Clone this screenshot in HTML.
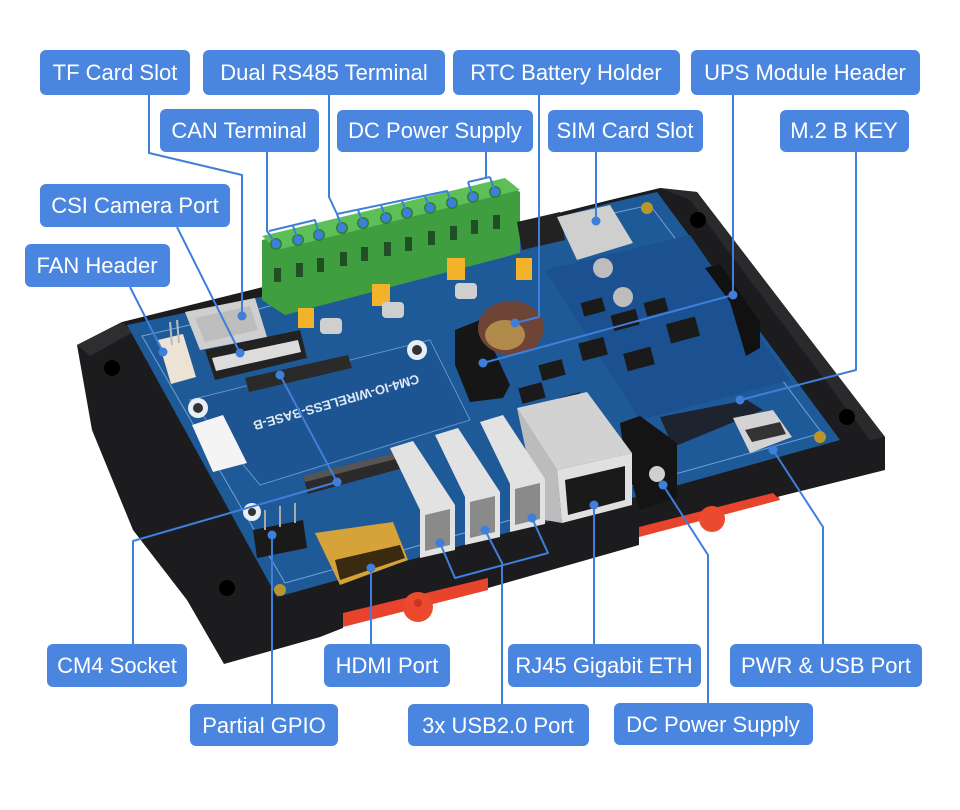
<!DOCTYPE html>
<html><head><meta charset="utf-8"><style>
html,body{margin:0;padding:0;background:#fff;}
svg{display:block;}
.lb{fill:#4a86df;}
.tx{font-family:"Liberation Sans",sans-serif;font-size:22px;fill:#fff;text-anchor:middle;}
.ln{fill:none;stroke:#3f7fdc;stroke-width:2;stroke-linejoin:round;}
.dt{fill:#3f7fdc;}
</style></head><body>
<svg width="960" height="810" viewBox="0 0 960 810" xmlns="http://www.w3.org/2000/svg">
<rect width="960" height="810" fill="#fff"/>
<!-- red din clips (strips behind case) -->
<polygon points="343,608 488,572 488,590 343,627" fill="#e8432c"/>
<polygon points="639,522 775,488 780,500 639,537" fill="#e8432c"/>
<!-- case -->
<polygon points="77,345 122,322 263,287 610,200 660,188 697,192 885,437 885,470 777,497 773,493 639,527 639,545 488,588 488,578 343,613 343,628 320,637 224,664 187,600 133,530 92,430" fill="#1c1c1e"/>
<polygon points="77,345 122,322 133,332 90,356" fill="#2e2e30"/>
<polygon points="660,188 697,192 885,437 870,440 690,200" fill="#2a2a2c"/>
<circle cx="112" cy="368" r="8" fill="#000"/>
<circle cx="227" cy="588" r="8" fill="#000"/>
<circle cx="698" cy="220" r="8" fill="#000"/>
<circle cx="847" cy="417" r="8" fill="#000"/>
<!-- red tabs (in front) -->
<circle cx="418" cy="607" r="15" fill="#ec4a2e"/>
<circle cx="418" cy="603" r="4" fill="#c83520"/>
<circle cx="712" cy="519" r="13" fill="#ec4a2e"/>
<!-- PCB -->
<polygon points="127,325 260,297 610,203 657,192 840,440 277,597" fill="#1f5a98"/>
<polygon points="142,336 255,310 605,215 650,205 822,433 285,583" fill="none" stroke="#6fa2d8" stroke-width="1"/>
<polygon points="190,400 430,340 470,420 260,485" fill="#1d5592" stroke="#5f93cc" stroke-width="1"/>
<polygon points="545,270 690,235 790,380 640,420" fill="#1b5190"/>
<text x="335" y="398" transform="rotate(164 335 398)" font-family="Liberation Sans, sans-serif" font-size="13" font-weight="bold" fill="#dfe9f5" text-anchor="middle">CM4-IO-WIRELESS-BASE-B</text>
<!-- mounting holes -->
<circle cx="198" cy="408" r="10" fill="#e8eef5"/><circle cx="198" cy="408" r="5" fill="#333"/>
<circle cx="417" cy="350" r="10" fill="#e8eef5"/><circle cx="417" cy="350" r="5" fill="#333"/>
<circle cx="252" cy="512" r="9" fill="#e8eef5"/><circle cx="252" cy="512" r="4" fill="#333"/>
<circle cx="647" cy="208" r="6" fill="#b8962e"/>
<circle cx="820" cy="437" r="6" fill="#b8962e"/>
<circle cx="280" cy="590" r="6" fill="#b8962e"/>
<!-- white sticker -->
<polygon points="192,425 223,415 247,463 213,472" fill="#f4f4f4"/>
<!-- TF slot -->
<polygon points="185,312 255,298 267,337 200,350" fill="#cfcfcf"/>
<polygon points="195,318 250,306 258,330 205,342" fill="#bdbdbd"/>
<!-- CSI connector -->
<polygon points="205,350 300,330 307,358 215,380" fill="#222"/>
<polygon points="212,358 298,340 301,352 216,371" fill="#dcdcdc"/>
<!-- FAN header -->
<polygon points="158,340 183,334 196,377 171,384" fill="#ece3d4"/>
<line x1="170" y1="322" x2="172" y2="345" stroke="#bbb" stroke-width="2"/>
<line x1="177" y1="320" x2="179" y2="343" stroke="#bbb" stroke-width="2"/>
<!-- CM4 connectors -->
<polygon points="245,378 348,355 352,368 249,392" fill="#2a2a2a"/>
<polygon points="303,476 398,452 403,468 308,494" fill="#2a2a2a"/>
<polygon points="303,476 398,452 400,458 305,482" fill="#555"/>
<!-- green terminal -->
<polygon points="262,240 503,182 520,192 520,253 285,315 262,300" fill="#3e9e40"/>
<polygon points="262,236 505,178 520,190 277,250" fill="#5cbf58"/>
<g fill="#2f7f33">
<circle cx="276" cy="244" r="6"/><circle cx="298" cy="240" r="6"/><circle cx="319" cy="235" r="6"/>
<circle cx="342" cy="228" r="6"/><circle cx="363" cy="223" r="6"/><circle cx="386" cy="218" r="6"/>
<circle cx="407" cy="213" r="6"/><circle cx="430" cy="208" r="6"/><circle cx="452" cy="203" r="6"/>
<circle cx="473" cy="197" r="6"/><circle cx="495" cy="192" r="6"/>
</g>
<g fill="#1f4f22">
<rect x="274" y="268" width="7" height="14"/><rect x="296" y="263" width="7" height="14"/><rect x="317" y="258" width="7" height="14"/>
<rect x="340" y="252" width="7" height="14"/><rect x="361" y="247" width="7" height="14"/><rect x="384" y="242" width="7" height="14"/>
<rect x="405" y="237" width="7" height="14"/><rect x="428" y="231" width="7" height="14"/><rect x="450" y="226" width="7" height="14"/>
<rect x="471" y="220" width="7" height="14"/><rect x="493" y="215" width="7" height="14"/>
</g>
<!-- jumpers & GDTs -->
<g fill="#f2b22a">
<rect x="298" y="308" width="16" height="20"/><rect x="372" y="284" width="18" height="22"/>
<rect x="447" y="258" width="18" height="22"/><rect x="516" y="258" width="16" height="22"/>
</g>
<g fill="#cfcfcf">
<rect x="320" y="318" width="22" height="16" rx="4"/><rect x="382" y="302" width="22" height="16" rx="4"/>
<rect x="455" y="283" width="22" height="16" rx="4"/>
</g>
<!-- SIM & switch -->
<polygon points="517,222 560,212 565,240 522,250" fill="#222"/>
<polygon points="557,217 610,205 633,243 577,260" fill="#cfcfcf"/>
<circle cx="603" cy="268" r="10" fill="#bdbdbd"/>
<circle cx="623" cy="297" r="10" fill="#bdbdbd"/>
<!-- battery holder & left header -->
<polygon points="455,330 480,320 510,385 503,398 470,402 455,365" fill="#161616"/>
<ellipse cx="511" cy="328" rx="33" ry="27" fill="#6e4436"/>
<ellipse cx="505" cy="335" rx="20" ry="15" fill="#b08a4a"/>
<!-- UPS header -->
<polygon points="705,268 720,264 760,322 760,348 746,356 730,302" fill="#111"/>
<!-- chips -->
<g fill="#1a1a1a">
<rect x="582" y="300" width="22" height="14" transform="rotate(-15 593 307)"/>
<rect x="612" y="312" width="26" height="16" transform="rotate(-15 625 320)"/>
<rect x="645" y="300" width="22" height="14" transform="rotate(-15 656 307)"/>
<rect x="580" y="340" width="26" height="18" transform="rotate(-15 593 349)"/>
<rect x="625" y="350" width="28" height="18" transform="rotate(-15 639 359)"/>
<rect x="668" y="320" width="30" height="20" transform="rotate(-15 683 330)"/>
<rect x="540" y="362" width="24" height="16" transform="rotate(-15 552 370)"/>
<rect x="520" y="385" width="24" height="16" transform="rotate(-15 532 393)"/>
<rect x="560" y="395" width="22" height="14" transform="rotate(-15 571 402)"/>
</g>
<!-- M.2 & USB-C -->
<polygon points="660,417 747,400 763,410 673,447" fill="#1d2430"/>
<polygon points="733,418 773,410 792,437 750,453" fill="#d3d3d3"/>
<polygon points="745,430 780,422 786,434 752,442" fill="#333"/>
<!-- DC jack -->
<polygon points="620,423 640,416 677,443 677,498 640,510 625,460" fill="#141414"/>
<circle cx="657" cy="474" r="8" fill="#cfcfcf"/>
<!-- RJ45 -->
<polygon points="517,408 587,392 632,453 557,470" fill="#d2d2d2"/>
<polygon points="557,470 632,453 632,505 562,523" fill="#e0e0e0"/>
<polygon points="565,480 625,466 625,500 568,515" fill="#1a1a1a"/>
<polygon points="517,408 557,470 562,523 545,520 530,470" fill="#bcbcbc"/>
<!-- USB ports -->
<g>
<polygon points="390,448 413,441 455,505 455,550 420,558 420,510" fill="#e2e2e2"/>
<polygon points="425,515 450,509 450,545 425,551" fill="#8a8a8a"/>
<polygon points="435,435 458,428 500,492 500,537 465,545 465,497" fill="#e2e2e2"/>
<polygon points="470,502 495,496 495,532 470,538" fill="#8a8a8a"/>
<polygon points="480,422 503,415 545,479 545,524 510,532 510,484" fill="#e2e2e2"/>
<polygon points="515,489 540,483 540,519 515,525" fill="#8a8a8a"/>
</g>
<!-- HDMI -->
<polygon points="315,533 393,522 408,560 340,585" fill="#d6a23a"/>
<polygon points="335,560 400,545 405,558 340,580" fill="#3a2a10"/>
<!-- GPIO header -->
<polygon points="253,530 303,520 307,548 257,558" fill="#1a1a1a"/>
<g stroke="#aaa" stroke-width="2"><line x1="265" y1="510" x2="265" y2="530"/><line x1="280" y1="506" x2="280" y2="527"/><line x1="295" y1="503" x2="295" y2="523"/></g>

<!-- connector lines -->
<g class="ln">
<path d="M149,95 V153 L242,175 V316"/>
<path d="M267,152 V231 L276,244"/>
<path d="M269,231 L315,220 L319,235 M293,226 L298,240"/>
<path d="M329,95 V197 L337,214 L342,228 M337,214 L447,191 L452,203 M358,210 L363,223 M381,205 L386,218 M402,201 L407,213 M425,196 L430,208"/>
<path d="M486,152 V178 M468,182 L490,177 M468,182 L473,197 M490,177 L495,192"/>
<path d="M539,95 V317 L515,323"/>
<path d="M596,152 V221"/>
<path d="M733,95 V295 L483,363"/>
<path d="M856,152 V370 L740,400"/>
<path d="M177,227 L240,353"/>
<path d="M130,287 L163,352"/>
<path d="M133,644 V541 L337,482 L280,375"/>
<path d="M272,704 V535"/>
<path d="M371,644 V568"/>
<path d="M502,704 V563 L485,530"/>
<path d="M440,543 L455,578 L548,553 L532,518"/>
<path d="M594,644 V505"/>
<path d="M708,703 V555 L663,485"/>
<path d="M823,644 V527 L773,450"/>
</g>
<g class="dt">
<circle cx="242" cy="316" r="4.5"/>
<circle cx="276" cy="244" r="4.5"/><circle cx="298" cy="240" r="4.5"/><circle cx="319" cy="235" r="4.5"/>
<circle cx="342" cy="228" r="4.5"/><circle cx="363" cy="223" r="4.5"/><circle cx="386" cy="218" r="4.5"/>
<circle cx="407" cy="213" r="4.5"/><circle cx="430" cy="208" r="4.5"/><circle cx="452" cy="203" r="4.5"/>
<circle cx="473" cy="197" r="4.5"/><circle cx="495" cy="192" r="4.5"/>
<circle cx="515" cy="323" r="4.5"/>
<circle cx="596" cy="221" r="4.5"/>
<circle cx="733" cy="295" r="4.5"/><circle cx="483" cy="363" r="4.5"/>
<circle cx="740" cy="400" r="4.5"/>
<circle cx="240" cy="353" r="4.5"/>
<circle cx="163" cy="352" r="4.5"/>
<circle cx="337" cy="482" r="4.5"/><circle cx="280" cy="375" r="4.5"/>
<circle cx="272" cy="535" r="4.5"/>
<circle cx="371" cy="568" r="4.5"/>
<circle cx="440" cy="543" r="4.5"/><circle cx="485" cy="530" r="4.5"/><circle cx="532" cy="518" r="4.5"/>
<circle cx="594" cy="505" r="4.5"/>
<circle cx="663" cy="485" r="4.5"/>
<circle cx="773" cy="450" r="4.5"/>
</g>

<!-- labels -->
<rect class="lb" x="40" y="50" width="150" height="45" rx="6"/><text class="tx" x="115" y="80">TF Card Slot</text>
<rect class="lb" x="203" y="50" width="242" height="45" rx="6"/><text class="tx" x="324" y="80">Dual RS485 Terminal</text>
<rect class="lb" x="453" y="50" width="227" height="45" rx="6"/><text class="tx" x="566" y="80">RTC Battery Holder</text>
<rect class="lb" x="691" y="50" width="229" height="45" rx="6"/><text class="tx" x="805" y="80">UPS Module Header</text>
<rect class="lb" x="160" y="109" width="159" height="43" rx="6"/><text class="tx" x="239" y="138">CAN Terminal</text>
<rect class="lb" x="337" y="110" width="196" height="42" rx="6"/><text class="tx" x="435" y="138">DC Power Supply</text>
<rect class="lb" x="548" y="110" width="155" height="42" rx="6"/><text class="tx" x="625" y="138">SIM Card Slot</text>
<rect class="lb" x="780" y="110" width="129" height="42" rx="6"/><text class="tx" x="844" y="138">M.2 B KEY</text>
<rect class="lb" x="40" y="184" width="190" height="43" rx="6"/><text class="tx" x="135" y="213">CSI Camera Port</text>
<rect class="lb" x="25" y="244" width="145" height="43" rx="6"/><text class="tx" x="97" y="273">FAN Header</text>
<rect class="lb" x="47" y="644" width="140" height="43" rx="6"/><text class="tx" x="117" y="673">CM4 Socket</text>
<rect class="lb" x="324" y="644" width="126" height="43" rx="6"/><text class="tx" x="387" y="673">HDMI Port</text>
<rect class="lb" x="508" y="644" width="193" height="43" rx="6"/><text class="tx" x="604" y="673">RJ45 Gigabit ETH</text>
<rect class="lb" x="730" y="644" width="192" height="43" rx="6"/><text class="tx" x="826" y="673">PWR &amp; USB Port</text>
<rect class="lb" x="190" y="704" width="148" height="42" rx="6"/><text class="tx" x="264" y="733">Partial GPIO</text>
<rect class="lb" x="408" y="704" width="181" height="42" rx="6"/><text class="tx" x="498" y="733">3x USB2.0 Port</text>
<rect class="lb" x="614" y="703" width="199" height="42" rx="6"/><text class="tx" x="713" y="732">DC Power Supply</text>
</svg>
</body></html>
